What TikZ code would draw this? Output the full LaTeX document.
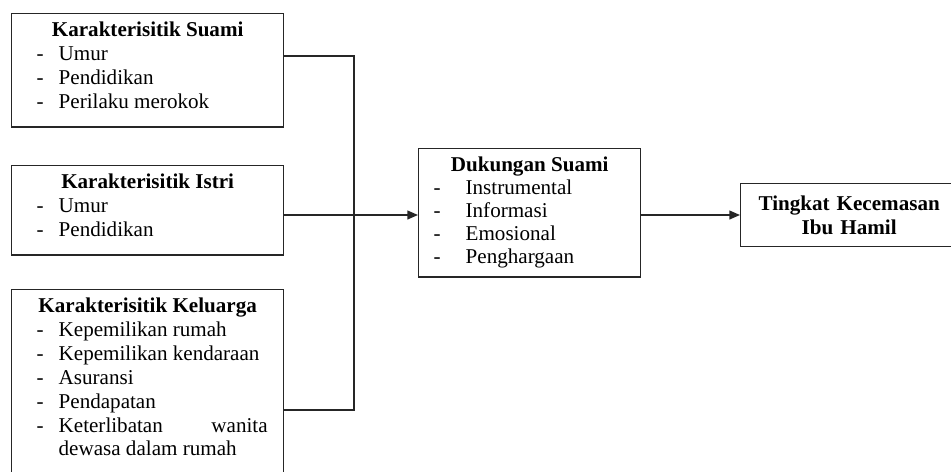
\documentclass[tikz,border=0pt]{standalone}
\usepackage{fontspec}
\setmainfont{Liberation Serif}
\usetikzlibrary{arrows.meta}
\newcommand{\judul}[1]{\multicolumn{2}{@{}c@{}}{\textbf{#1}}}
\begin{document}
\begin{tikzpicture}[x=0.02cm,y=-0.02cm,
    kotak/.style={draw=black!85,line width=0.8pt,anchor=north west,inner xsep=0pt,inner ysep=3.5pt,
        font=\fontsize{12}{13.6}\selectfont},
    garis/.style={draw=black!85,line width=0.8pt},
    panah/.style={garis,-{Triangle[length=6pt,width=5pt]}}]
    \useasboundingbox (0,0) rectangle (951,471);
    \clip (0,0) rectangle (951,471);
    % variabel bebas
    \node[kotak] (suami) at (11,13) {\begin{tabular}{@{\hspace{0.5cm}}p{0.44cm}@{}p{4.18cm}@{\hspace{0.32cm}}}
        \judul{Karakterisitik Suami}\\
        - & Umur\\
        - & Pendidikan\\
        - & Perilaku merokok\\[3pt]
    \end{tabular}};
    \node[kotak] (istri) at (11,165) {\begin{tabular}{@{\hspace{0.5cm}}p{0.44cm}@{}p{4.18cm}@{\hspace{0.32cm}}}
        \judul{Karakterisitik Istri}\\
        - & Umur\\
        - & Pendidikan\\[3pt]
    \end{tabular}};
    \node[kotak] (keluarga) at (11,289) {\begin{tabular}{@{\hspace{0.5cm}}p{0.44cm}@{}p{4.18cm}@{\hspace{0.32cm}}}
        \judul{Karakterisitik Keluarga}\\
        - & Kepemilikan rumah\\
        - & Kepemilikan kendaraan\\
        - & Asuransi\\
        - & Pendapatan\\
        - & \makebox[\linewidth][s]{Keterlibatan\hfill wanita}\\
          & dewasa dalam rumah\\[14pt]
    \end{tabular}};
    % variabel antara dan terikat
    \node[kotak,font=\fontsize{12}{13.2}\selectfont] (dukungan) at (418,148) {\begin{tabular}{@{\hspace{0.3cm}}p{0.64cm}@{}p{3.4cm}@{\hspace{0.1cm}}}
        \judul{Dukungan Suami}\\
        - & Instrumental\\
        - & Informasi\\
        - & Emosional\\
        - & Penghargaan
    \end{tabular}};
    \node[kotak,text width=4.34cm,minimum height=1.26cm,align=center,font=\fontsize{12}{13.6}\selectfont\bfseries]
        (cemas) at (740,183) {Tingkat Kecemasan\\Ibu Hamil\\[-3pt]};
    % penghubung
    \coordinate (simpul) at (354,215);
    \draw[garis] (suami.east |- 0,56) -| (simpul);
    \draw[garis] (keluarga.east |- 0,410) -| (simpul);
    \draw[garis] (istri.east |- simpul) -- (simpul);
    \draw[panah] (simpul) -- (dukungan.west |- simpul);
    \draw[panah] (dukungan.east |- simpul) -- (cemas.west |- simpul);
\end{tikzpicture}
\end{document}
